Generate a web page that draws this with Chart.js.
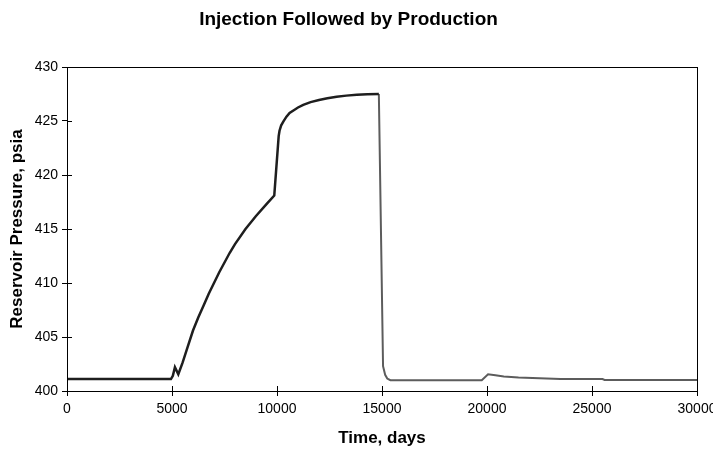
<!DOCTYPE html>
<html>
<head>
<meta charset="utf-8">
<script src="https://cdn.jsdelivr.net/npm/chart.js@4.4.1/dist/chart.umd.min.js"></script>
<style>
  html, body { margin: 0; padding: 0; background: #fff; }
  #wrap { width: 713px; height: 452px; }
</style>
</head>
<body>
<div id="wrap"><canvas id="pressureChart" width="713" height="452"></canvas></div>
<script>
// injection period (dark line)
const injDays = [0, 4950, 5040, 5140, 5300, 5500, 5750, 6000, 6250, 6500, 6750, 7000, 7250, 7500, 7750, 8000,
  8500, 9000, 9500, 9870, 10080, 10120, 10200, 10300, 10450, 10600, 10800, 11000, 11250, 11600, 12000, 12400,
  12840, 13300, 13800, 14300, 14850];
const injPressure = [401.1, 401.1, 401.4, 402.2, 401.55, 402.6, 404.1, 405.6, 406.8, 407.9, 409.0, 410.0, 411.0, 411.9, 412.8, 413.6,
  415.0, 416.2, 417.3, 418.1, 423.6, 424.1, 424.6, 424.95, 425.4, 425.75, 426.0, 426.25, 426.5, 426.75, 426.95, 427.1,
  427.25, 427.35, 427.42, 427.47, 427.5];

// production period (grey line)
const prodDays = [14850, 15050, 15150, 15250, 15400, 19750, 20050, 20400, 20800, 21500, 22500, 23500, 25500, 25600, 30000];
const prodPressure = [427.5, 402.3, 401.5, 401.15, 401.0, 401.0, 401.55, 401.45, 401.35, 401.25, 401.18, 401.12, 401.1, 401.02, 401.02];

const xTicks = [0, 5000, 10000, 15000, 20000, 25000, 30000];
const yTicks = [400, 405, 410, 415, 420, 425, 430];

const toPoints = (xs, ys) => xs.map((x, i) => ({ x: x, y: ys[i] }));

const font = "'Liberation Sans', Arial, sans-serif";

// box around the plot area and the inner half of the tick marks
const frame = {
  id: "frame",
  afterDraw(chart) {
    const { ctx, chartArea: a, scales } = chart;
    ctx.save();
    ctx.strokeStyle = "#000";
    ctx.lineWidth = 1;
    ctx.strokeRect(Math.round(a.left) + 0.5, Math.round(a.top) + 0.5,
      Math.round(a.right - a.left), Math.round(a.bottom - a.top));
    ctx.beginPath();
    scales.x.ticks.forEach(t => {
      const px = Math.round(scales.x.getPixelForValue(t.value)) + 0.5;
      ctx.moveTo(px, a.bottom);
      ctx.lineTo(px, a.bottom - 5);
    });
    scales.y.ticks.forEach(t => {
      const py = Math.round(scales.y.getPixelForValue(t.value)) + 0.5;
      ctx.moveTo(a.left, py);
      ctx.lineTo(a.left + 5, py);
    });
    ctx.stroke();
    ctx.restore();
  }
};

const ctx = document.getElementById("pressureChart").getContext("2d");
new Chart(ctx, {
  type: "line",
  data: {
    datasets: [
      {
        label: "Injection",
        data: toPoints(injDays, injPressure),
        borderColor: "#1e1e1e",
        borderWidth: 2.5,
        pointRadius: 0,
        tension: 0,
      },
      {
        label: "Production",
        data: toPoints(prodDays, prodPressure),
        borderColor: "#5c5c5c",
        borderWidth: 2,
        pointRadius: 0,
        tension: 0,
      },
    ],
  },
  options: {
    responsive: false,
    animation: false,
    devicePixelRatio: 1,
    layout: { padding: { left: 0, right: 16, top: 0, bottom: 0 } },
    plugins: {
      legend: { display: false },
      tooltip: { enabled: false },
      title: {
        display: true,
        text: "Injection Followed by Production",
        color: "#000",
        font: { family: font, size: 19, weight: "bold", lineHeight: 1.2 },
        padding: { top: 8, bottom: 36.2 },
      },
    },
    scales: {
      x: {
        type: "linear",
        min: 0,
        max: 30000,
        afterBuildTicks: (s) => { s.ticks = xTicks.map(v => ({ value: v })); },
        afterFit: (s) => { s.paddingLeft = 0; s.paddingRight = 0; s.height = 61; },
        grid: { drawOnChartArea: false, tickLength: 5, color: "#000" },
        border: { color: "#000" },
        ticks: {
          color: "#000",
          padding: 5,
          maxRotation: 0,
          font: { family: font, size: 14 },
          callback: (v) => String(v),
        },
        title: {
          display: true,
          text: "Time, days",
          color: "#000",
          font: { family: font, size: 17, weight: "bold", lineHeight: 1.2 },
          padding: { top: 0, bottom: 3 },
        },
      },
      y: {
        type: "linear",
        min: 400,
        max: 430,
        afterBuildTicks: (s) => { s.ticks = yTicks.map(v => ({ value: v })); },
        afterFit: (s) => { s.paddingTop = 0; s.paddingBottom = 0; s.width = 67; },
        grid: { drawOnChartArea: false, tickLength: 5, color: "#000" },
        border: { color: "#000" },
        ticks: { color: "#000", padding: 4, font: { family: font, size: 14 }, callback: (v) => String(v) },
        title: {
          display: true,
          text: "Reservoir Pressure, psia",
          color: "#000",
          font: { family: font, size: 17, weight: "bold", lineHeight: 1.2 },
          padding: { top: 7, bottom: 0 },
        },
      },
    },
  },
  plugins: [frame],
});
</script>
</body>
</html>
